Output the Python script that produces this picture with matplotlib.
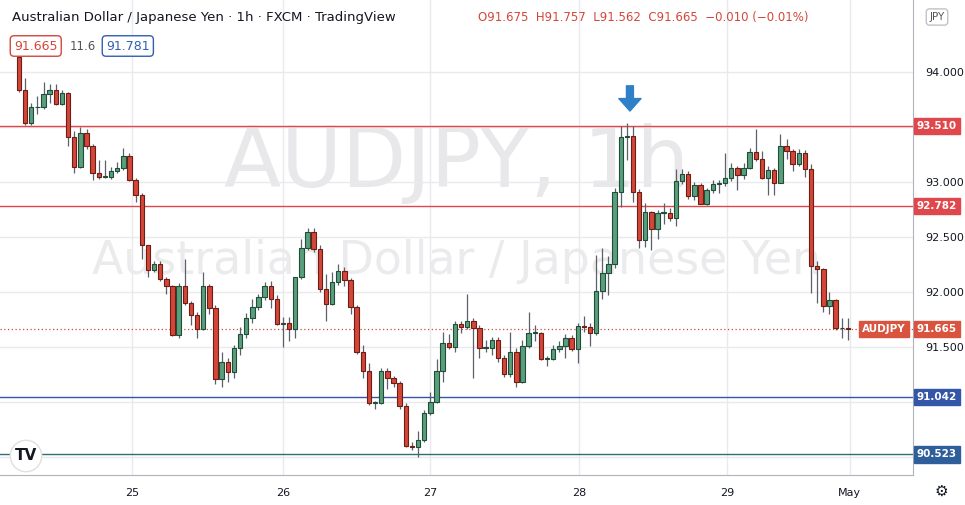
import matplotlib
matplotlib.use("Agg")
import matplotlib.pyplot as plt
from matplotlib.patches import Rectangle

first_open = 94.14
closes = [93.84,93.54,93.68,93.68,93.80,93.84,93.71,93.81,93.41,93.14,93.45,93.33,93.08,93.05,93.05,93.10,93.13,93.24,93.02,92.88,92.43,92.20,92.25,92.12,92.05,91.61,92.05,91.90,91.79,91.66,92.05,91.85,91.21,91.36,91.27,
          91.49,91.62,91.76,91.86,91.95,92.05,91.94,91.71,91.72,91.66,92.14,92.40,92.55,92.39,92.03,91.89,92.09,92.19,92.11,91.86,91.45,91.28,90.99,90.99,91.28,91.22,91.17,90.96,90.60,90.59,90.65,90.90,91.00,91.28,91.54,91.50,
          91.71,91.68,91.74,91.67,91.49,91.49,91.56,91.40,91.25,91.45,91.18,91.51,91.63,91.63,91.39,91.39,91.48,91.51,91.58,91.48,91.69,91.68,91.63,92.01,92.17,92.25,92.91,93.41,93.42,92.91,92.47,92.73,92.57,92.72,92.72,
          92.67,93.01,93.07,92.87,92.97,92.80,92.93,92.98,92.99,93.04,93.13,93.06,93.13,93.27,93.21,93.04,93.11,92.99,93.33,93.28,93.16,93.26,93.12,92.24,92.21,91.87,91.93,91.67,91.675,91.665]
highs = [94.25,93.95,93.72,93.78,93.91,93.89,93.89,93.84,93.82,93.46,93.50,93.48,93.35,93.20,93.20,93.14,93.18,93.31,93.26,93.04,92.90,92.43,92.28,92.28,92.14,92.06,92.08,92.30,91.92,91.82,92.18,92.07,91.88,91.45,91.40,
         91.52,91.68,91.81,91.94,91.98,92.09,92.10,91.97,91.77,91.77,92.14,92.48,92.58,92.58,92.43,92.16,92.18,92.25,92.23,92.13,91.88,91.52,91.35,91.01,91.31,91.31,91.24,91.19,90.99,90.64,90.74,90.93,91.09,91.39,91.64,91.62,
         91.74,91.74,91.98,91.76,91.70,91.56,91.59,91.59,91.43,91.64,91.49,91.56,91.82,91.70,91.64,91.42,91.52,91.55,91.62,91.61,91.72,91.78,91.72,92.34,92.40,92.33,92.95,93.51,93.54,93.51,92.94,92.81,92.74,92.75,92.81,
         92.76,93.12,93.12,93.10,93.00,92.99,92.95,93.02,93.02,93.26,93.17,93.15,93.17,93.31,93.48,93.28,93.15,93.13,93.44,93.39,93.30,93.30,93.29,93.16,92.28,92.22,92.00,91.94,91.76,91.76]
lows = [93.82,93.52,93.52,93.62,93.66,93.72,93.70,93.70,93.33,93.08,93.13,93.30,93.02,93.03,93.04,93.03,93.08,93.11,93.01,92.82,92.30,92.14,92.18,92.10,91.98,91.60,91.58,91.88,91.70,91.58,91.65,91.80,91.16,91.14,91.18,
        91.22,91.43,91.58,91.72,91.84,91.93,91.85,91.70,91.50,91.55,91.58,92.12,92.38,92.36,92.00,91.74,91.88,92.06,92.05,91.80,91.44,91.22,90.97,90.94,90.98,91.12,91.14,90.94,90.59,90.56,90.50,90.64,90.88,90.99,91.18,91.48,
        91.45,91.63,91.66,91.22,91.40,91.45,91.43,91.36,91.23,91.23,91.14,91.17,91.49,91.55,91.38,91.33,91.38,91.45,91.40,91.46,91.35,91.64,91.51,91.61,91.94,91.97,92.22,92.77,93.20,92.82,92.40,92.41,92.38,92.48,92.62,
        92.65,92.60,92.98,92.85,92.84,92.80,92.79,92.90,92.90,92.96,93.01,92.93,93.03,93.12,93.19,93.03,92.88,92.88,92.99,93.21,93.10,93.15,93.05,91.99,91.90,91.82,91.80,91.65,91.58,91.56]
opens = [first_open] + closes[:-1]

date_labels = ["25", "26", "27", "28", "29", "May"]
date_pos = [18.4, 43.0, 66.9, 91.2, 115.3, 135.3]
grid_prices = [94.0, 93.5, 93.0, 92.5, 92.0, 91.5, 91.0, 90.5]
tick_labels = ["94.000", "", "93.000", "92.500", "92.000", "91.500", "", ""]
red_levels = [93.510, 92.782]
blue_levels = [91.042, 90.523]
last_price = 91.665

UP, UPE = "#5a9e7c", "#1f4d37"
DN, DNE = "#d3473a", "#6e1d14"
WICK = "#5d606b"
Y0, Y1 = 90.336, 94.655

fig = plt.figure(figsize=(9.65, 5.05), dpi=100)
fig.patch.set_facecolor("white")
ax = fig.add_axes([0, 30/505, 913/965, 475/505])
ax.set_xlim(-3.09, 145.6)
ax.set_ylim(Y0, Y1)
for s in ax.spines.values():
    s.set_visible(False)
ax.spines["right"].set_visible(True); ax.spines["right"].set_color("#b0b3bb")
ax.spines["bottom"].set_visible(True); ax.spines["bottom"].set_color("#b0b3bb")
ax.set_xticks(date_pos)
ax.set_xticklabels(date_labels, fontsize=8, color="#131722")
ax.set_yticks(grid_prices)
ax.set_yticklabels(tick_labels, fontsize=8, color="#131722")
ax.yaxis.tick_right()
ax.tick_params(axis="x", length=0, pad=9)
ax.tick_params(axis="y", length=0, pad=9)
ax.grid(True, color="#e9eaed", lw=1)
ax.set_axisbelow(True)

ax.text(0.5, 0.655, "AUDJPY, 1h", transform=ax.transAxes, ha="center", va="center",
        fontsize=60, color="#e8e8ea", zorder=0)
ax.text(0.5, 0.45, "Australian Dollar / Japanese Yen", transform=ax.transAxes, ha="center",
        va="center", fontsize=33, color="#ebebed", zorder=0)

for lv in red_levels:
    ax.axhline(lv, color="#e0474c", lw=1, zorder=1)
ax.axhline(blue_levels[0], color="#3456a8", lw=1, zorder=1)
ax.axhline(blue_levels[1], color="#2f6f72", lw=1, zorder=1)
ax.axhline(last_price, color="#d3473a", lw=0.9, ls=(0, (1, 2)), zorder=1)

w = 0.72
for i, (o, h, l, c) in enumerate(zip(opens, highs, lows, closes)):
    up = c >= o
    ax.vlines(i, l, h, color=WICK, lw=0.9, zorder=2)
    lo, hi = min(o, c), max(o, c)
    hgt = max(hi - lo, 0.006)
    ax.add_patch(Rectangle((i - w/2, lo), w, hgt, facecolor=UP if up else DN,
                           edgecolor=UPE if up else DNE, lw=0.8, zorder=3))

ax.annotate("", xy=(99.5, 93.62), xytext=(99.5, 93.90),
            arrowprops=dict(arrowstyle="simple,head_length=0.9,head_width=1.6,tail_width=0.5",
                            color="#2f80c8"), zorder=5)

def axis_label(price, text, fc):
    ax.text(1.004, (price - Y0) / (Y1 - Y0), text, transform=ax.transAxes,
            ha="left", va="center", fontsize=7.5, color="white", fontweight="bold",
            bbox=dict(boxstyle="square,pad=0.3", fc=fc, ec=fc), clip_on=False, zorder=6)

for lv in red_levels:
    axis_label(lv, f"{lv:.3f}", "#e0474c")
axis_label(91.042, "91.042", "#3456a8")
axis_label(90.523, "90.523", "#2f5f9a")
axis_label(last_price, "91.665", "#d9543f")
ax.text(0.992, (last_price - Y0) / (Y1 - Y0), "AUDJPY", transform=ax.transAxes,
        ha="right", va="center", fontsize=7.5, color="white", fontweight="bold",
        bbox=dict(boxstyle="square,pad=0.3", fc="#d9543f", ec="#d9543f"), zorder=6)

fig.text(12/965, 1 - 17/505, "Australian Dollar / Japanese Yen · 1h · FXCM · TradingView",
         fontsize=9.5, color="#131722", va="center")
fig.text(478/965, 1 - 17/505, "O91.675  H91.757  L91.562  C91.665  −0.010 (−0.01%)",
         fontsize=8.5, color="#d3473a", va="center")
fig.text(14/965, 1 - 46/505, "91.665", fontsize=9, color="#d3473a", va="center",
         bbox=dict(boxstyle="round,pad=0.3", fc="white", ec="#d3473a"))
fig.text(70/965, 1 - 46/505, "11.6", fontsize=8.5, color="#555", va="center")
fig.text(106/965, 1 - 46/505, "91.781", fontsize=9, color="#2f5fb3", va="center",
         bbox=dict(boxstyle="round,pad=0.3", fc="white", ec="#2f5fb3"))
fig.text(937/965, 1 - 17/505, "JPY", fontsize=7.5, color="#555", ha="center", va="center",
         bbox=dict(boxstyle="round,pad=0.3", fc="white", ec="#c0c3ca"))
fig.text(26/965, 1 - 456/505, "TV", fontsize=11, color="#131722", fontweight="bold",
         ha="center", va="center",
         bbox=dict(boxstyle="circle,pad=0.3", fc="white", ec="#e0e0e0"))
fig.text(941/965, 1 - 491/505, "⚙", fontsize=11, color="#131722", ha="center", va="center")

fig.savefig("out.png", dpi=100)
